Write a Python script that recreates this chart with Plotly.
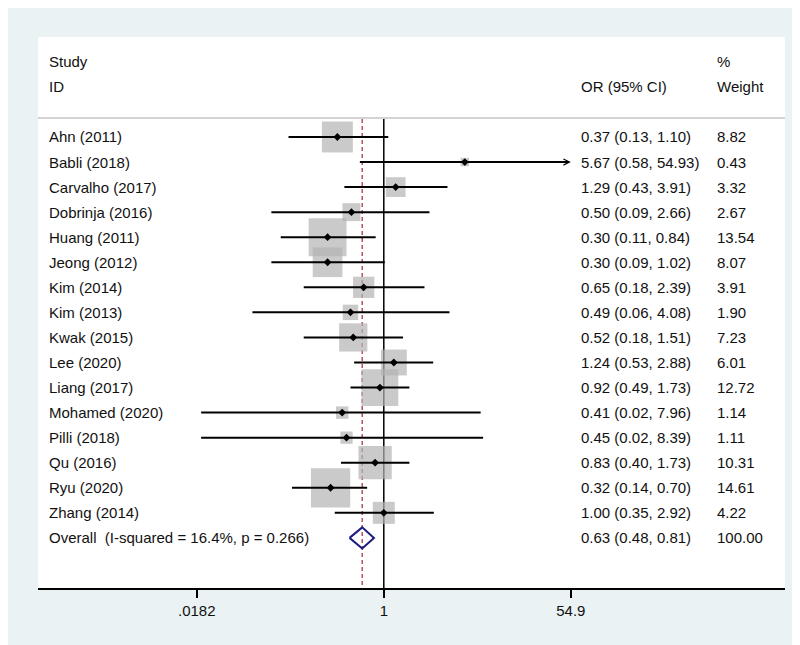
import numpy as np
import plotly.graph_objects as go

studies = ["Ahn (2011)", "Babli (2018)", "Carvalho (2017)", "Dobrinja (2016)", "Huang (2011)",
           "Jeong (2012)", "Kim (2014)", "Kim (2013)", "Kwak (2015)", "Lee (2020)",
           "Liang (2017)", "Mohamed (2020)", "Pilli (2018)", "Qu (2016)", "Ryu (2020)", "Zhang (2014)"]
or_vals = [0.37, 5.67, 1.29, 0.50, 0.30, 0.30, 0.65, 0.49, 0.52, 1.24, 0.92, 0.41, 0.45, 0.83, 0.32, 1.00]
ci_low = [0.13, 0.58, 0.43, 0.09, 0.11, 0.09, 0.18, 0.06, 0.18, 0.53, 0.49, 0.02, 0.02, 0.40, 0.14, 0.35]
ci_high = [1.10, 54.93, 3.91, 2.66, 0.84, 1.02, 2.39, 4.08, 1.51, 2.88, 1.73, 7.96, 8.39, 1.73, 0.70, 2.92]
weights = [8.82, 0.43, 3.32, 2.67, 13.54, 8.07, 3.91, 1.90, 7.23, 6.01, 12.72, 1.14, 1.11, 10.31, 14.61, 4.22]

overall_label = "Overall\u00a0\u00a0(I-squared = 16.4%, p = 0.266)"
overall_or, overall_low, overall_high, overall_weight = 0.63, 0.48, 0.81, 100.00

tick_vals = [0.0182, 1, 54.9]
tick_text = [".0182", "1", "54.9"]

FONT = "Liberation Sans, Arial, sans-serif"
BG = "#eaf2f3"
n = len(studies)
rows = list(range(n))
overall_row = n
axis_min, axis_max = tick_vals[0], tick_vals[-1]
x_range = [-3.2165, 3.7319]
y_range = [18.0, -3.99]
line_top = -0.72

fig = go.Figure()

# reference lines
fig.add_trace(go.Scatter(x=[1, 1], y=[line_top, y_range[0]], mode="lines",
                         line=dict(color="black", width=1.5), hoverinfo="skip"))
fig.add_trace(go.Scatter(x=[overall_or, overall_or], y=[line_top, y_range[0]], mode="lines",
                         line=dict(color="#b5545a", width=1.5, dash="4px,3px"), hoverinfo="skip"))

# weight boxes
fig.add_trace(go.Scatter(x=or_vals, y=rows, mode="markers",
                         marker=dict(symbol="square", color="#b3b3b3",
                                     size=[2 + 9.75 * np.sqrt(w) for w in weights],
                                     line=dict(width=0)),
                         hoverinfo="skip"))

# CI lines (clipped to axis limits)
xs, ys = [], []
arrows = []
for i in rows:
    lo = max(ci_low[i], axis_min)
    hi = min(ci_high[i], axis_max)
    if ci_high[i] > axis_max:
        arrows.append((i, lo, hi))
        continue
    xs += [lo, hi, None]
    ys += [i, i, None]
fig.add_trace(go.Scatter(x=xs, y=ys, mode="lines", line=dict(color="black", width=2),
                         hoverinfo="skip"))
for i, lo, hi in arrows:
    fig.add_annotation(x=np.log10(hi), y=i, ax=np.log10(lo), ay=i, xref="x", yref="y",
                       axref="x", ayref="y", text="", showarrow=True, arrowhead=5,
                       arrowsize=0.6, arrowwidth=2, arrowcolor="black")

# point estimates
fig.add_trace(go.Scatter(x=or_vals, y=rows, mode="markers",
                         marker=dict(symbol="diamond", color="black", size=6),
                         hoverinfo="skip"))

# overall diamond
half_h = 0.42
fig.add_trace(go.Scatter(x=[overall_low, overall_or, overall_high, overall_or, overall_low],
                         y=[overall_row, overall_row - half_h, overall_row, overall_row + half_h, overall_row],
                         mode="lines", line=dict(color="#1c1c80", width=2), hoverinfo="skip"))

# text columns
col_study, col_or, col_w = 0.0121, 0.7242, 0.9063
tf = dict(family=FONT, size=15, color="#111111")

def txt(x, y, s):
    fig.add_annotation(x=x, y=y, xref="paper", yref="y", text=s, showarrow=False,
                       xanchor="left", yanchor="middle", font=tf)

txt(col_study, -3, "Study")
txt(col_study, -2, "ID")
txt(col_or, -2, "OR (95% CI)")
txt(col_w, -3, "%")
txt(col_w, -2, "Weight")
for i in rows:
    txt(col_study, i, studies[i])
    txt(col_or, i, f"{or_vals[i]:.2f} ({ci_low[i]:.2f}, {ci_high[i]:.2f})")
    txt(col_w, i, f"{weights[i]:.2f}")
txt(col_study, overall_row, overall_label)
txt(col_or, overall_row, f"{overall_or:.2f} ({overall_low:.2f}, {overall_high:.2f})")
txt(col_w, overall_row, f"{overall_weight:.2f}")

# header separator
fig.add_shape(type="line", xref="paper", yref="y", x0=0, x1=1, y0=-0.76, y1=-0.76,
              line=dict(color="#c4c4c4", width=1.5))

fig.update_layout(
    width=800, height=645,
    paper_bgcolor=BG, plot_bgcolor="white",
    margin=dict(l=30, r=23, t=29, b=65),
    showlegend=False,
    xaxis=dict(type="log", range=x_range, tickvals=tick_vals, ticktext=tick_text,
               ticks="outside", ticklen=8, tickwidth=1.5, tickcolor="black",
               showline=True, linecolor="black", linewidth=1.5,
               showgrid=False, zeroline=False,
               tickfont=dict(family=FONT, size=15, color="#111111")),
    yaxis=dict(range=y_range, showgrid=False, zeroline=False, showticklabels=False,
               showline=False, ticks=""),
)

fig.write_html("out.html")
